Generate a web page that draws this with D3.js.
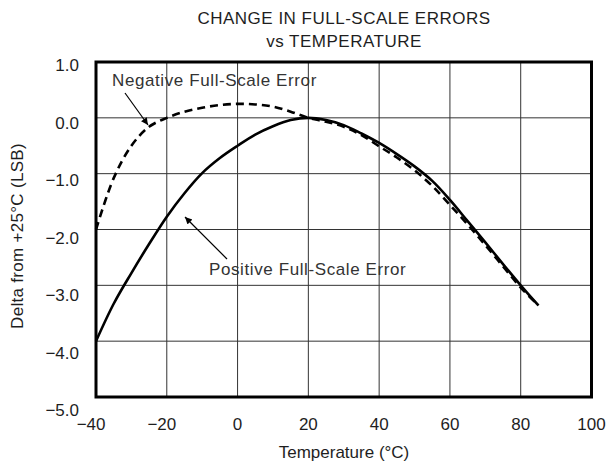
<!DOCTYPE html>
<html>
<head>
<meta charset="utf-8">
<script src="https://cdn.jsdelivr.net/npm/d3@7"></script>
<style>
  body { margin: 0; background: #fff; }
  svg { display: block; font-family: "Liberation Sans", Arial, sans-serif; }
</style>
</head>
<body>
<svg id="chart" width="608" height="470"></svg>
<script>
// Data
const temps = [-40, -35, -30, -25, -20, -15, -10, -5, 0, 5, 10, 15, 20, 25, 30, 35, 40, 45, 50, 55, 60, 65, 70, 75, 80, 85];
const positiveErr = [-4.0, -3.33, -2.78, -2.26, -1.77, -1.35, -0.99, -0.72, -0.5, -0.3, -0.15, -0.04, 0.0, -0.04, -0.13, -0.28, -0.45, -0.65, -0.87, -1.13, -1.47, -1.85, -2.23, -2.62, -3.0, -3.36];
const negativeErr = [-2.0, -1.08, -0.5, -0.16, 0.0, 0.11, 0.18, 0.23, 0.25, 0.24, 0.2, 0.11, 0.0, -0.07, -0.16, -0.31, -0.51, -0.71, -0.94, -1.22, -1.56, -1.91, -2.28, -2.66, -3.04, -3.36];
const xTicks = [-40, -20, 0, 20, 40, 60, 80, 100];
const yTicks = [1, 0, -1, -2, -3, -4, -5];
const titleLines = ['CHANGE IN FULL-SCALE ERRORS', 'vs TEMPERATURE'];

const svg = d3.select('#chart');
const ink = '#1e1e1e';

// Scales
const x = d3.scaleLinear().domain([-40, 100]).range([96, 591.5]);
const y = d3.scaleLinear().domain([1, -5]).range([62, 397]);
// y labels drift slightly below their gridlines in the original
const yLabel = d3.scaleLinear().domain([1, -5]).range([65.5, 410]);

const fmtMinus = s => s.replace('-', '\u2212');

// Grid
const grid = svg.append('g');
grid.selectAll('line.v')
    .data(xTicks.slice(1, -1))
    .enter().append('line')
    .attr('x1', d => x(d)).attr('x2', d => x(d))
    .attr('y1', y(1)).attr('y2', y(-5))
    .attr('stroke', '#333').attr('stroke-width', 1);
grid.selectAll('line.h')
    .data(yTicks.slice(1, -1))
    .enter().append('line')
    .attr('x1', x(-40)).attr('x2', x(100))
    .attr('y1', d => y(d)).attr('y2', d => y(d))
    .attr('stroke', '#333').attr('stroke-width', 1);

// Curves
const line = d3.line()
    .x((d, i) => x(temps[i]))
    .y(d => y(d))
    .curve(d3.curveCatmullRom.alpha(0.5));

svg.append('path')
    .attr('d', line(negativeErr))
    .attr('fill', 'none')
    .attr('stroke', '#000')
    .attr('stroke-width', 2.6)
    .attr('stroke-dasharray', '8,5');

svg.append('path')
    .attr('d', line(positiveErr))
    .attr('fill', 'none')
    .attr('stroke', '#000')
    .attr('stroke-width', 2.6);

// Frame
svg.append('rect')
    .attr('x', x(-40)).attr('y', y(1))
    .attr('width', x(100) - x(-40))
    .attr('height', y(-5) - y(1))
    .attr('fill', 'none')
    .attr('stroke', '#000')
    .attr('stroke-width', 3);

// Y tick labels
svg.append('g').selectAll('text')
    .data(yTicks)
    .enter().append('text')
    .attr('x', 79)
    .attr('y', d => yLabel(d))
    .attr('dy', '0.35em')
    .attr('text-anchor', 'end')
    .attr('font-size', 17)
    .attr('fill', ink)
    .text(d => fmtMinus(d3.format('.1f')(d)));

// X tick labels (digits centred on the gridline, minus hangs left)
svg.append('g').selectAll('text')
    .data(xTicks)
    .enter().append('text')
    .attr('x', d => x(d))
    .attr('y', 429.5)
    .attr('dx', d => d < 0 ? '-0.29em' : 0)
    .attr('text-anchor', 'middle')
    .attr('font-size', 17)
    .attr('fill', ink)
    .text(d => fmtMinus(String(d)));

// Titles
svg.append('g').selectAll('text')
    .data(titleLines)
    .enter().append('text')
    .attr('x', 344)
    .attr('y', (d, i) => 24 + i * 22.5)
    .attr('text-anchor', 'middle')
    .attr('font-size', 17)
    .attr('letter-spacing', 0.5)
    .attr('fill', ink)
    .text(d => d);

svg.append('text')
    .attr('x', 344).attr('y', 458)
    .attr('text-anchor', 'middle')
    .attr('font-size', 17)
    .attr('fill', ink)
    .text('Temperature (\u00B0C)');

svg.append('text')
    .attr('transform', 'translate(23,236) rotate(-90)')
    .attr('text-anchor', 'middle')
    .attr('font-size', 17)
    .attr('letter-spacing', 0.3)
    .attr('fill', ink)
    .text('Delta from +25\u00B0C (LSB)');

// Annotations
svg.append('defs').append('marker')
    .attr('id', 'arrow')
    .attr('viewBox', '0 0 10 10')
    .attr('refX', 10).attr('refY', 5)
    .attr('markerWidth', 10).attr('markerHeight', 7)
    .attr('markerUnits', 'userSpaceOnUse')
    .attr('orient', 'auto')
    .append('path')
    .attr('d', 'M0,0 L10,5 L0,10 Z')
    .attr('fill', '#000');

const notes = [
    { label: 'Negative Full-Scale Error', tx: 112, ty: 86, from: [125, 93], to: [148, 125] },
    { label: 'Positive Full-Scale Error', tx: 209, ty: 275, from: [227, 259], to: [185, 217] }
];

const note = svg.append('g').selectAll('g')
    .data(notes)
    .enter().append('g');

note.append('line')
    .attr('x1', d => d.from[0]).attr('y1', d => d.from[1])
    .attr('x2', d => d.to[0]).attr('y2', d => d.to[1])
    .attr('stroke', '#000')
    .attr('stroke-width', 1.2)
    .attr('marker-end', 'url(#arrow)');

note.append('text')
    .attr('x', d => d.tx).attr('y', d => d.ty)
    .attr('font-size', 17)
    .attr('letter-spacing', 0.6)
    .attr('fill', '#333')
    .text(d => d.label);
</script>
</body>
</html>
